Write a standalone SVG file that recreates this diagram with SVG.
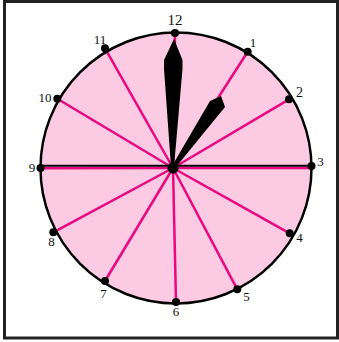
<svg xmlns="http://www.w3.org/2000/svg" width="339" height="342" viewBox="0 0 339 342">
<style>
.lbl{font-family:"Liberation Serif","Times New Roman",serif;font-size:13px;fill:#111;text-anchor:middle}
.spoke{stroke:#e8087f;stroke-width:2.5;fill:none}
.dot{fill:#000}
</style>
<rect x="4.5" y="1.5" width="333" height="336.5" fill="#fff" stroke="#222" stroke-width="3"/>
<g id="face">
<circle cx="176" cy="168" r="135.5" fill="#fccae3"/>
</g>
<g id="connectors">
<line class="spoke" x1="173" y1="168" x2="175" y2="33"/>
<line class="spoke" x1="173" y1="168" x2="247.7" y2="51.7"/>
<line class="spoke" x1="173" y1="168" x2="289" y2="99.3"/>
<line class="spoke" x1="173" y1="168" x2="311.5" y2="168"/>
<line class="spoke" x1="173" y1="168" x2="289.7" y2="233.3"/>
<line class="spoke" x1="173" y1="168" x2="237.3" y2="289.3"/>
<line class="spoke" x1="173" y1="168" x2="176" y2="302"/>
<line class="spoke" x1="173" y1="168" x2="105" y2="281"/>
<line class="spoke" x1="173" y1="168" x2="53.3" y2="232.3"/>
<line class="spoke" x1="173" y1="168" x2="40" y2="168.3"/>
<line class="spoke" x1="173" y1="168" x2="57.3" y2="98.7"/>
<line class="spoke" x1="173" y1="168" x2="105" y2="48.3"/>
<line x1="40" y1="165.7" x2="311.5" y2="165.7" stroke="#000" stroke-width="2"/>
</g>
<g id="rim">
<circle cx="176" cy="168" r="135.5" fill="none" stroke="#000" stroke-width="2.5"/>
</g>
<g id="hands">
<polygon id="minute-hand" points="174,39 182.5,60 182.5,69 174,167 171,167 164,69 164,60" fill="#000"/>
<polygon id="hour-hand" points="221,96 225,107 176,167 172,166 210,101" fill="#000"/>
</g>
<g id="n12"><circle class="dot" cx="175" cy="33" r="4"/><text class="lbl" x="175" y="25" style="font-size:15px">12</text></g>
<g id="n1"><circle class="dot" cx="247.7" cy="51.7" r="4"/><text class="lbl" x="253" y="47">1</text></g>
<g id="n2"><circle class="dot" cx="289" cy="99.3" r="4"/><text class="lbl" x="299.5" y="97" style="font-size:14px">2</text></g>
<g id="n3"><circle class="dot" cx="311.5" cy="166" r="4"/><text class="lbl" x="320.5" y="166">3</text></g>
<g id="n4"><circle class="dot" cx="289.7" cy="233.3" r="4"/><text class="lbl" x="299.5" y="242">4</text></g>
<g id="n5"><circle class="dot" cx="237.3" cy="289.3" r="4"/><text class="lbl" x="246.5" y="301">5</text></g>
<g id="n6"><circle class="dot" cx="176" cy="302" r="4"/><text class="lbl" x="176" y="316">6</text></g>
<g id="n7"><circle class="dot" cx="105" cy="281" r="4"/><text class="lbl" x="103.5" y="298">7</text></g>
<g id="n8"><circle class="dot" cx="53.3" cy="232.3" r="4"/><text class="lbl" x="51.5" y="246">8</text></g>
<g id="n9"><circle class="dot" cx="40.5" cy="168" r="4"/><text class="lbl" x="32" y="172">9</text></g>
<g id="n10"><circle class="dot" cx="57.3" cy="98.7" r="4"/><text class="lbl" x="45" y="102">10</text></g>
<g id="n11"><circle class="dot" cx="105" cy="48.3" r="4"/><text class="lbl" x="100" y="44">11</text></g>
<g id="center"><circle class="dot" cx="173" cy="168" r="5.5"/></g>
</svg>
